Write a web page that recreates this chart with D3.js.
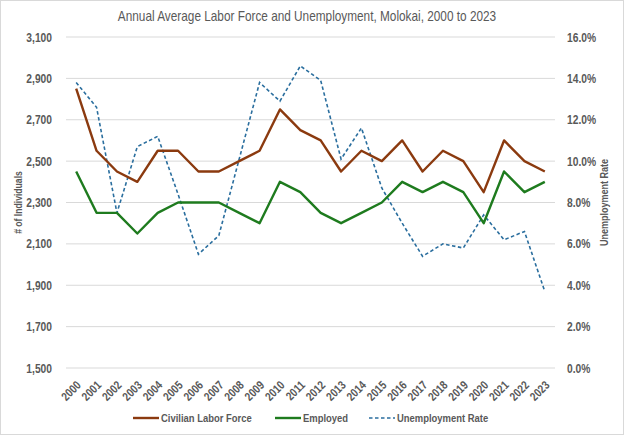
<!DOCTYPE html>
<html><head><meta charset="utf-8">
<script src="https://cdn.jsdelivr.net/npm/d3@7"></script>
<style>
body{margin:0;background:#fff;}
svg{display:block;font-family:"Liberation Sans Narrow","Arial Narrow","Liberation Sans",Arial,sans-serif;}
</style></head>
<body><svg id="c" width="624" height="435"></svg>
<script>
const years = ["2000","2001","2002","2003","2004","2005","2006","2007","2008","2009","2010","2011","2012","2013","2014","2015","2016","2017","2018","2019","2020","2021","2022","2023"];
const laborForce = [2850,2550,2450,2400,2550,2550,2450,2450,2500,2550,2750,2650,2600,2450,2550,2500,2600,2450,2550,2500,2350,2600,2500,2450];
const employed = [2450,2250,2250,2150,2250,2300,2300,2300,2250,2200,2400,2350,2250,2200,2250,2300,2400,2350,2400,2350,2200,2450,2350,2400];
const unempRate = [13.8,12.6,7.5,10.7,11.2,8.4,5.5,6.4,10.1,13.8,12.9,14.6,13.9,10.1,11.6,8.7,7.0,5.4,6.0,5.8,7.4,6.2,6.6,3.7];
const leftTicks = [1500,1700,1900,2100,2300,2500,2700,2900,3100];
const rightTicks = [0,2,4,6,8,10,12,14,16];
const title = "Annual Average Labor Force and Unemployment, Molokai, 2000 to 2023";

const svg = d3.select("#c");
const W = 624, H = 435;
const m = {l:66, r:555, t:37, b:368};
const grey = "#595959";

// condense text (no narrow font installed)
function narrow(sel, f){
  f = f || 0.82;
  sel.each(function(){
    const L = this.getComputedTextLength();
    this.setAttribute("textLength", (L*f).toFixed(2));
    this.setAttribute("lengthAdjust","spacingAndGlyphs");
  });
}

svg.append("rect").attr("x",0.5).attr("y",0.5).attr("width",W-1).attr("height",H-1)
  .attr("fill","#fff").attr("stroke","#d9d9d9");

const x = d3.scalePoint().domain(years).range([m.l,m.r]).padding(0.5);
const yL = d3.scaleLinear().domain([1500,3100]).range([m.b,m.t]);
const yR = d3.scaleLinear().domain([0,16]).range([m.b,m.t]);

// gridlines
svg.append("g").selectAll("line").data(leftTicks).join("line")
  .attr("x1",m.l).attr("x2",m.r)
  .attr("y1",d=>yL(d)).attr("y2",d=>yL(d))
  .attr("stroke","#d9d9d9").attr("stroke-width",1);

// left axis
const la = svg.append("g").attr("transform",`translate(${m.l},0)`)
  .call(d3.axisLeft(yL).tickValues(leftTicks).tickFormat(d3.format(",")).tickSize(0).tickPadding(14));
la.select(".domain").remove();
la.selectAll("text").attr("fill",grey).attr("font-size","12.5px").attr("font-weight","bold")
  .style("font-family","inherit");
narrow(la.selectAll("text"));

// right axis
const ra = svg.append("g").attr("transform",`translate(${m.r},0)`)
  .call(d3.axisRight(yR).tickValues(rightTicks).tickFormat(d=>d.toFixed(1)+"%").tickSize(0).tickPadding(12));
ra.select(".domain").remove();
ra.selectAll("text").attr("fill",grey).attr("font-size","12.5px").attr("font-weight","bold")
  .style("font-family","inherit");
narrow(ra.selectAll("text"));

// x axis
const xa = svg.append("g").attr("transform",`translate(0,${m.b})`)
  .call(d3.axisBottom(x).tickSize(0).tickPadding(0));
xa.select(".domain").remove();
xa.selectAll("text").attr("fill",grey).attr("font-size","12px").attr("font-weight","bold")
  .style("font-family","inherit")
  .attr("text-anchor","end")
  .attr("dy","0.35em")
  .attr("transform","translate(2,15) rotate(-45)");
narrow(xa.selectAll("text"));

// axis titles
const t1 = svg.append("text").attr("transform",`translate(22,${(m.t+m.b)/2}) rotate(-90)`)
  .attr("text-anchor","middle").attr("fill",grey).attr("font-size","10.5px").attr("font-weight","bold")
  .text("# of Individuals");
const t2 = svg.append("text").attr("transform",`translate(608,${(m.t+m.b)/2}) rotate(-90)`)
  .attr("text-anchor","middle").attr("fill",grey).attr("font-size","11px").attr("font-weight","bold")
  .text("Unemployment Rate");
narrow(t1); narrow(t2);

// title
const tt = svg.append("text").attr("x",307).attr("y",21).attr("text-anchor","middle")
  .attr("fill",grey).attr("font-size","14.4px").text(title);
narrow(tt);

// lines
const cLF = "#8B3A0F", cEmp = "#1E7B1E", cUR = "#2A6E9E";
const lineL = d3.line().x((d,i)=>x(years[i])).y(d=>yL(d));
const lineR = d3.line().x((d,i)=>x(years[i])).y(d=>yR(d));
svg.append("path").datum(unempRate).attr("d",lineR).attr("fill","none")
  .attr("stroke",cUR).attr("stroke-width",1.6).attr("stroke-dasharray","3.5,2.5");
svg.append("path").datum(employed).attr("d",lineL).attr("fill","none")
  .attr("stroke",cEmp).attr("stroke-width",2.4).attr("stroke-linejoin","round");
svg.append("path").datum(laborForce).attr("d",lineL).attr("fill","none")
  .attr("stroke",cLF).attr("stroke-width",2.4).attr("stroke-linejoin","round");

// legend
const legend = [
  {name:"Civilian Labor Force", color:cLF, dash:null, x:133},
  {name:"Employed", color:cEmp, dash:null, x:275},
  {name:"Unemployment Rate", color:cUR, dash:"3.5,2.5", x:369}
];
const ly = 418;
const lg = svg.append("g").selectAll("g").data(legend).join("g");
lg.append("line").attr("x1",d=>d.x).attr("x2",d=>d.x+26).attr("y1",ly).attr("y2",ly)
  .attr("stroke",d=>d.color).attr("stroke-width",d=>d.dash?1.6:2.4)
  .attr("stroke-dasharray",d=>d.dash);
const ltx = lg.append("text").attr("x",d=>d.x+28).attr("y",ly).attr("dy","0.35em")
  .attr("fill",grey).attr("font-size","11.5px").attr("font-weight","bold").text(d=>d.name);
narrow(ltx);
</script></body></html>
